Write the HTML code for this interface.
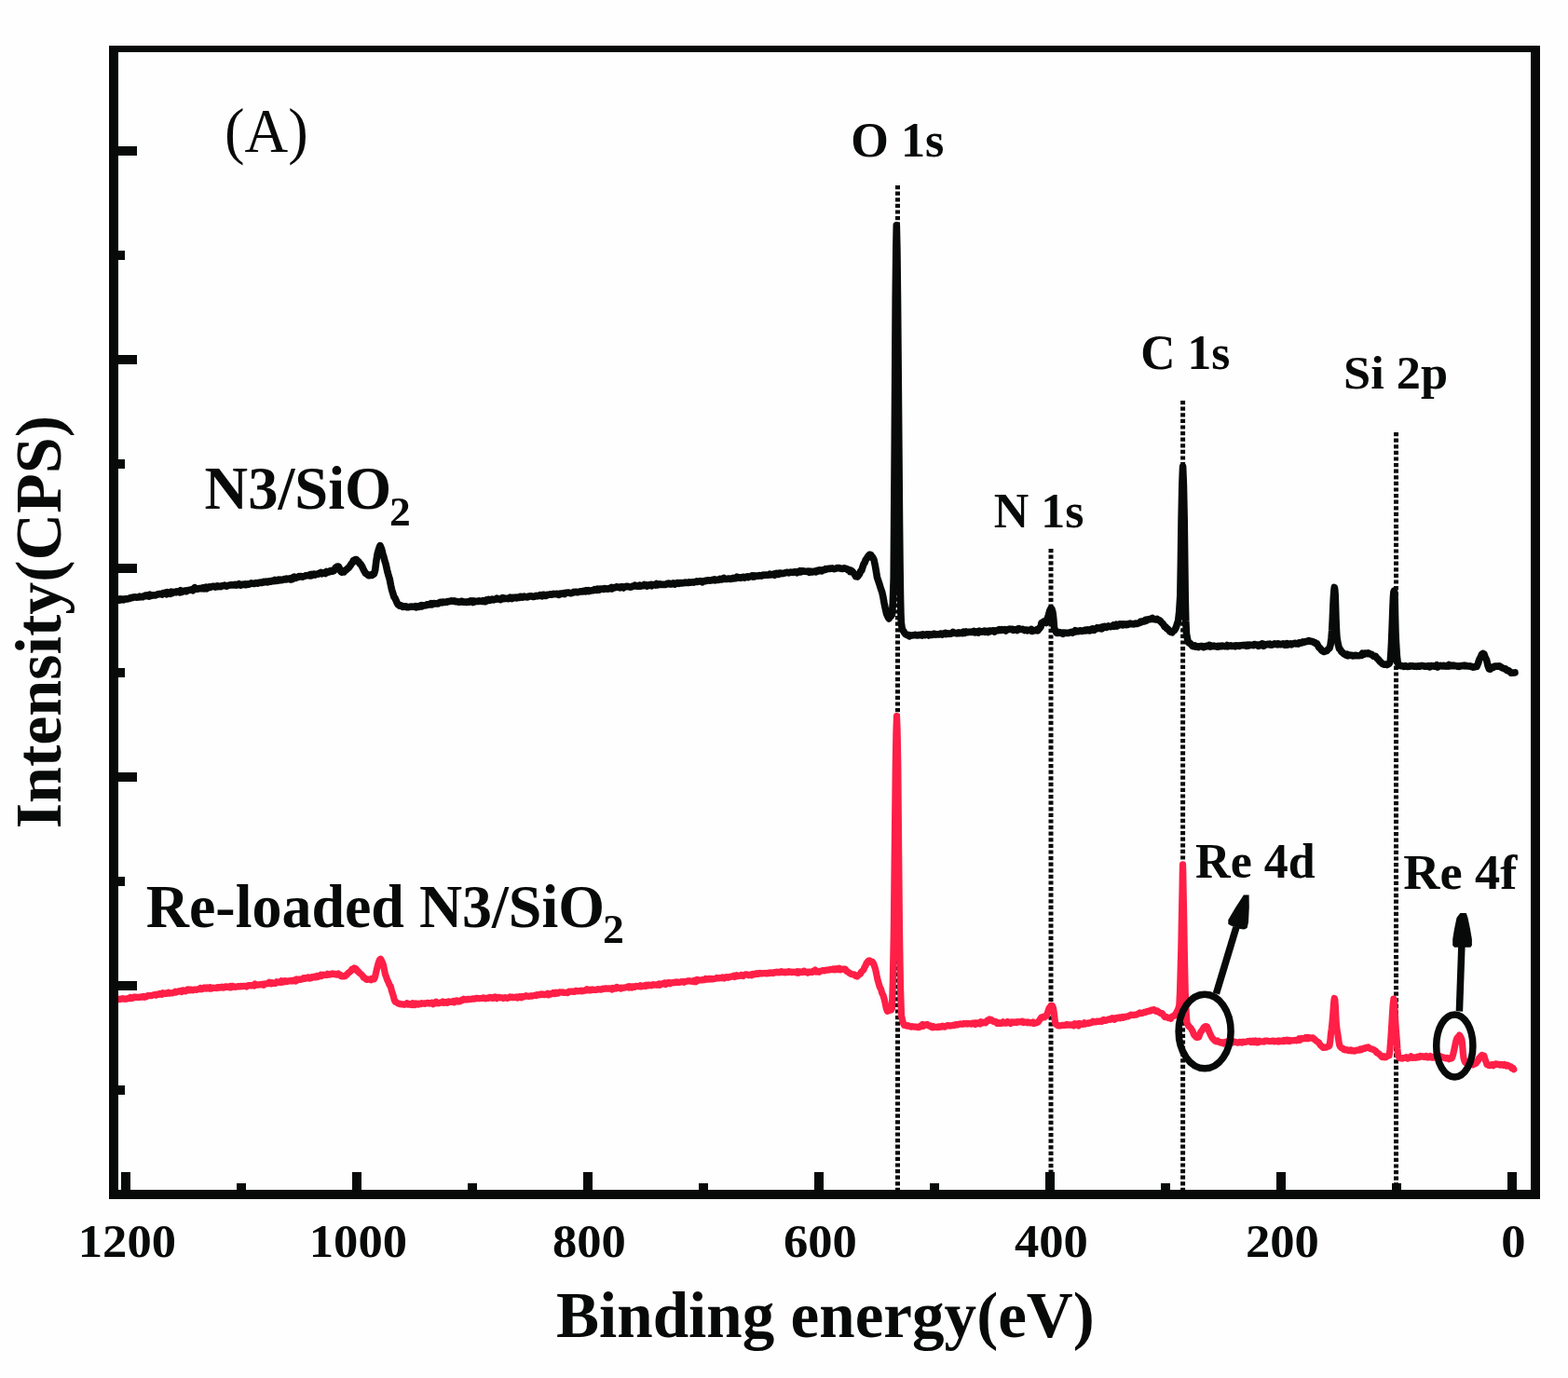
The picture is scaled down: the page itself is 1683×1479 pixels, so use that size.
<!DOCTYPE html>
<html><head><meta charset="utf-8"><title>XPS spectra</title>
<style>
html,body{margin:0;padding:0;background:#fefefe;}
svg{display:block;}
.b{font-family:"Liberation Serif","Times New Roman",serif;font-weight:bold;fill:#080a09;}
.r{font-family:"Liberation Serif","Times New Roman",serif;font-weight:normal;fill:#080a09;}
</style></head>
<body>
<svg width="1683" height="1479" viewBox="0 0 1683 1479">
<rect width="1683" height="1479" fill="#fefefe"/>
<path d="M127.0,643.7 L128.0,644.1 L129.0,643.0 L130.0,643.8 L131.0,643.1 L132.0,643.0 L133.0,643.8 L134.0,642.9 L135.0,642.7 L136.0,642.9 L137.0,643.0 L138.0,642.3 L139.0,642.5 L140.0,641.6 L141.0,641.8 L142.0,641.6 L143.0,641.1 L144.0,640.9 L145.0,640.7 L146.0,641.2 L147.0,641.1 L148.0,640.9 L149.0,641.0 L150.0,640.2 L151.0,640.6 L152.0,640.6 L153.0,640.7 L154.0,639.9 L155.0,640.0 L156.0,639.1 L157.0,639.6 L158.0,638.7 L159.0,639.0 L160.0,640.0 L161.0,638.3 L162.0,639.5 L163.0,639.2 L164.0,638.8 L165.0,639.0 L166.0,638.9 L167.0,639.0 L168.0,638.3 L169.0,638.0 L170.0,637.8 L171.0,637.5 L172.0,637.8 L173.0,637.3 L174.0,638.0 L175.0,636.6 L176.0,636.8 L177.0,636.7 L178.0,636.1 L179.0,637.7 L180.0,635.6 L181.0,636.5 L182.0,636.2 L183.0,637.1 L184.0,635.3 L185.0,636.6 L186.0,635.6 L187.0,635.7 L188.0,635.4 L189.0,635.8 L190.0,634.9 L191.0,635.2 L192.0,635.3 L193.0,635.8 L194.0,633.8 L195.0,635.4 L196.0,635.0 L197.0,634.2 L198.0,634.4 L199.0,633.9 L200.0,634.7 L201.0,633.9 L202.0,633.6 L203.0,633.4 L204.0,633.3 L205.0,633.1 L206.0,632.6 L207.0,633.7 L208.0,631.8 L209.0,630.8 L210.0,632.2 L211.0,632.0 L212.0,632.1 L213.0,631.7 L214.0,631.6 L215.0,631.6 L216.0,631.8 L217.0,631.0 L218.0,630.9 L219.0,631.9 L220.0,631.1 L221.0,630.3 L222.0,631.7 L223.0,630.8 L224.0,630.1 L225.0,629.7 L226.0,630.3 L227.0,629.7 L228.0,629.5 L229.0,629.2 L230.0,629.5 L231.0,630.1 L232.0,629.3 L233.0,628.8 L234.0,629.6 L235.0,629.3 L236.0,629.5 L237.0,629.6 L238.0,628.9 L239.0,628.8 L240.0,628.8 L241.0,628.2 L242.1,628.9 L243.1,629.2 L244.1,628.6 L245.1,628.3 L246.2,628.2 L247.2,627.9 L248.2,627.9 L249.2,628.0 L250.3,627.7 L251.3,627.9 L252.3,627.3 L253.4,628.1 L254.4,627.9 L255.4,627.3 L256.4,626.7 L257.5,627.7 L258.5,628.1 L259.5,627.2 L260.5,627.2 L261.6,627.1 L262.6,627.6 L263.6,626.8 L264.6,627.6 L265.7,626.9 L266.7,627.3 L267.7,626.8 L268.7,626.6 L269.7,625.9 L270.7,626.1 L271.8,626.2 L272.8,626.5 L273.8,626.2 L274.8,625.6 L275.8,626.0 L276.9,626.1 L277.9,625.5 L278.9,625.2 L279.9,625.1 L280.9,625.5 L281.9,625.2 L283.0,624.4 L284.0,624.9 L285.0,624.4 L286.0,624.1 L287.0,624.9 L288.0,624.6 L289.0,623.8 L290.0,624.0 L291.0,624.1 L292.0,623.4 L293.0,623.5 L294.0,623.7 L295.0,622.5 L296.0,623.3 L297.0,623.4 L298.0,623.1 L299.0,622.2 L300.0,622.8 L301.0,622.1 L302.0,622.6 L303.0,622.5 L304.0,622.2 L305.0,621.6 L306.0,621.5 L307.0,622.0 L308.0,621.1 L309.0,621.6 L310.0,621.4 L311.0,620.9 L312.0,622.0 L313.0,620.8 L314.0,621.5 L315.0,619.5 L316.0,619.2 L317.0,620.5 L318.0,620.2 L319.0,619.6 L320.0,619.5 L321.0,618.5 L322.0,618.9 L323.0,618.5 L324.0,618.7 L325.0,619.1 L326.0,618.5 L327.0,618.5 L328.0,617.8 L329.0,617.7 L330.0,617.8 L331.0,617.4 L332.0,617.9 L333.0,616.8 L334.0,617.8 L335.0,616.4 L336.0,617.1 L337.1,616.1 L338.1,617.0 L339.1,616.2 L340.2,616.2 L341.2,616.2 L342.2,615.4 L343.3,615.1 L344.3,614.5 L345.3,615.8 L346.4,614.8 L347.4,614.7 L348.4,614.7 L349.4,615.5 L350.5,613.6 L351.5,614.3 L352.5,613.7 L353.6,613.9 L354.6,612.5 L355.6,612.8 L356.7,613.1 L357.7,613.0 L358.9,612.1 L360.0,609.5 L361.1,608.6 L362.3,608.0 L363.5,608.3 L364.6,610.4 L365.8,613.4 L367.0,614.1 L368.0,613.8 L369.1,614.0 L370.1,612.3 L371.1,612.2 L372.1,611.1 L373.2,610.1 L374.2,609.4 L375.2,608.1 L376.2,606.7 L377.2,605.0 L378.3,604.0 L379.3,601.6 L380.3,601.1 L381.3,600.6 L382.5,600.6 L383.7,602.1 L384.9,602.8 L386.1,605.0 L387.2,605.5 L388.2,607.3 L389.3,609.5 L390.3,611.7 L391.4,613.6 L392.4,615.3 L393.5,616.1 L394.5,616.7 L395.6,617.7 L396.8,617.6 L398.0,616.9 L399.1,617.5 L400.3,616.8 L401.5,615.9 L402.7,611.8 L403.9,601.9 L405.1,594.6 L406.6,589.4 L408.0,585.6 L409.0,587.9 L410.0,590.7 L411.0,595.3 L412.0,598.1 L413.0,602.1 L414.0,605.2 L415.0,609.6 L416.0,614.1 L417.0,617.7 L418.2,621.5 L419.4,627.8 L420.5,632.8 L421.7,636.6 L422.9,640.7 L424.1,642.2 L425.3,645.0 L426.4,647.5 L427.6,649.2 L428.8,650.2 L430.0,649.8 L431.2,650.1 L432.4,651.4 L433.6,650.8 L434.6,651.3 L435.6,650.8 L436.6,651.8 L437.7,651.7 L438.7,651.6 L439.7,651.3 L440.7,651.2 L441.7,651.0 L442.7,651.3 L443.7,651.2 L444.8,651.2 L445.8,650.7 L446.8,651.7 L447.8,650.9 L448.8,651.4 L449.9,651.2 L450.9,650.1 L452.0,649.6 L453.0,650.8 L454.1,649.9 L455.1,650.0 L456.1,649.7 L457.2,649.7 L458.2,648.9 L459.3,649.2 L460.3,648.9 L461.4,648.9 L462.4,647.7 L463.5,648.9 L464.5,648.5 L465.5,647.5 L466.5,647.7 L467.5,647.9 L468.5,648.0 L469.5,647.5 L470.5,647.9 L471.5,647.1 L472.5,646.4 L473.5,646.4 L474.5,646.8 L475.5,646.0 L476.5,646.5 L477.5,646.5 L478.5,646.1 L479.5,646.2 L480.5,645.6 L481.5,645.6 L482.5,645.2 L483.5,645.2 L484.5,644.8 L485.6,645.3 L486.6,645.1 L487.6,644.9 L488.7,645.7 L489.7,645.8 L490.7,645.5 L491.8,646.3 L492.8,646.2 L493.8,646.2 L494.8,645.5 L495.9,645.2 L496.9,646.1 L497.9,646.0 L499.0,646.2 L500.0,646.1 L501.0,646.5 L502.0,645.8 L503.0,646.2 L504.0,645.4 L505.1,644.8 L506.1,645.6 L507.1,646.4 L508.1,644.9 L509.1,646.1 L510.1,645.3 L511.1,645.3 L512.1,645.4 L513.1,645.4 L514.1,644.8 L515.2,645.2 L516.2,645.3 L517.2,645.4 L518.2,644.6 L519.2,645.5 L520.2,645.6 L521.2,645.7 L522.2,643.9 L523.2,644.5 L524.3,643.5 L525.3,644.4 L526.3,644.3 L527.3,643.4 L528.3,643.1 L529.3,643.8 L530.3,643.9 L531.3,643.1 L532.3,643.3 L533.4,642.1 L534.4,642.8 L535.4,643.1 L536.4,643.0 L537.4,643.5 L538.4,642.2 L539.4,641.6 L540.4,642.7 L541.4,642.1 L542.4,642.4 L543.5,642.5 L544.5,642.3 L545.5,642.6 L546.5,642.5 L547.5,641.1 L548.5,641.7 L549.5,642.5 L550.5,641.4 L551.5,641.9 L552.5,641.4 L553.5,641.1 L554.5,641.9 L555.5,641.6 L556.6,640.9 L557.6,641.4 L558.6,640.3 L559.6,640.5 L560.6,641.1 L561.6,640.7 L562.6,640.1 L563.6,640.7 L564.6,640.6 L565.6,640.9 L566.6,640.7 L567.6,640.1 L568.6,639.9 L569.6,640.0 L570.6,639.8 L571.6,640.5 L572.6,640.5 L573.6,640.3 L574.7,639.8 L575.7,639.4 L576.7,639.9 L577.7,639.2 L578.7,639.4 L579.7,638.5 L580.7,638.9 L581.7,639.7 L582.7,638.5 L583.7,638.2 L584.7,638.7 L585.7,639.5 L586.7,639.3 L587.7,638.4 L588.7,638.3 L589.7,638.3 L590.7,637.9 L591.8,638.2 L592.8,638.0 L593.8,637.4 L594.8,637.7 L595.8,637.7 L596.8,637.4 L597.8,637.2 L598.8,638.0 L599.8,638.4 L600.8,637.3 L601.8,637.1 L602.8,637.4 L603.8,637.0 L604.8,636.7 L605.9,637.5 L606.9,636.3 L607.9,636.4 L608.9,636.3 L609.9,636.1 L610.9,636.3 L611.9,636.5 L612.9,636.8 L613.9,636.4 L614.9,636.0 L615.9,635.3 L617.0,635.7 L618.0,635.2 L619.0,635.5 L620.0,635.8 L621.0,635.4 L622.0,635.1 L623.0,634.7 L624.0,634.9 L625.0,634.9 L626.0,634.3 L627.0,634.4 L628.1,634.9 L629.1,633.6 L630.1,634.1 L631.1,633.6 L632.1,634.7 L633.1,634.2 L634.1,634.0 L635.1,633.8 L636.1,633.7 L637.1,633.6 L638.1,632.6 L639.2,633.3 L640.2,633.4 L641.2,632.3 L642.2,633.2 L643.2,633.1 L644.2,632.0 L645.2,632.3 L646.2,632.3 L647.2,632.1 L648.2,632.4 L649.2,631.5 L650.3,631.9 L651.3,632.0 L652.3,632.1 L653.3,631.7 L654.3,631.4 L655.3,631.8 L656.3,630.5 L657.3,631.7 L658.3,631.0 L659.3,630.5 L660.3,630.8 L661.4,630.0 L662.4,629.8 L663.4,630.5 L664.4,630.2 L665.4,630.8 L666.4,630.0 L667.4,629.7 L668.4,629.8 L669.4,630.9 L670.4,630.1 L671.4,629.7 L672.4,629.4 L673.4,629.3 L674.4,629.7 L675.4,629.8 L676.4,630.1 L677.4,630.0 L678.5,629.5 L679.5,629.0 L680.5,628.9 L681.5,628.2 L682.5,628.7 L683.5,629.2 L684.5,628.8 L685.5,629.1 L686.5,628.2 L687.5,629.2 L688.5,628.8 L689.5,628.6 L690.5,628.7 L691.5,627.5 L692.5,628.2 L693.5,627.9 L694.5,629.1 L695.5,628.1 L696.5,627.9 L697.5,628.4 L698.5,627.5 L699.5,628.6 L700.5,627.5 L701.5,627.8 L702.6,627.3 L703.6,628.0 L704.6,626.6 L705.6,627.8 L706.6,627.1 L707.6,627.4 L708.6,626.8 L709.6,627.4 L710.6,627.3 L711.6,627.4 L712.6,627.2 L713.6,627.3 L714.6,627.4 L715.6,626.7 L716.6,626.2 L717.6,626.1 L718.6,626.9 L719.6,626.4 L720.6,627.0 L721.6,626.4 L722.6,625.9 L723.6,626.7 L724.6,627.1 L725.6,626.1 L726.7,625.6 L727.7,625.6 L728.7,626.3 L729.7,625.6 L730.7,625.6 L731.7,626.0 L732.7,625.6 L733.7,625.6 L734.7,625.2 L735.7,625.1 L736.7,625.4 L737.7,625.3 L738.7,625.4 L739.7,624.8 L740.7,625.1 L741.7,625.1 L742.7,624.8 L743.7,624.9 L744.7,625.1 L745.7,624.6 L746.7,624.5 L747.7,623.9 L748.7,624.4 L749.8,624.1 L750.8,623.9 L751.8,623.6 L752.8,624.1 L753.8,624.9 L754.8,623.9 L755.8,623.6 L756.8,623.7 L757.8,623.1 L758.8,623.4 L759.8,622.9 L760.8,622.8 L761.8,623.1 L762.8,623.0 L763.8,622.8 L764.8,622.4 L765.8,622.7 L766.8,622.0 L767.8,622.8 L768.8,622.2 L769.8,622.2 L770.8,622.5 L771.8,622.3 L772.8,621.4 L773.9,621.7 L774.9,621.9 L775.9,621.1 L776.9,620.5 L777.9,621.4 L778.9,621.3 L779.9,621.4 L780.9,621.2 L781.9,621.1 L782.9,621.0 L783.9,621.5 L784.9,621.0 L785.9,620.9 L786.9,620.4 L787.9,621.0 L788.9,620.3 L789.9,620.6 L790.9,619.2 L791.9,620.2 L792.9,619.9 L793.9,619.7 L794.9,620.4 L795.9,619.9 L796.9,619.5 L798.0,619.3 L799.0,620.2 L800.0,619.6 L801.0,619.5 L802.0,618.8 L803.0,619.6 L804.0,619.2 L805.0,618.7 L806.0,618.7 L807.0,617.9 L808.0,618.9 L809.0,618.0 L810.0,618.8 L811.0,618.1 L812.0,618.0 L813.0,618.3 L814.0,618.2 L815.0,617.5 L816.0,617.9 L817.0,618.1 L818.0,617.7 L819.0,617.1 L820.0,617.5 L821.0,617.1 L822.0,617.1 L823.0,617.3 L824.1,617.2 L825.1,617.0 L826.1,616.2 L827.1,617.0 L828.1,616.6 L829.1,616.4 L830.1,616.5 L831.2,617.2 L832.2,615.6 L833.2,615.3 L834.2,616.2 L835.2,615.4 L836.2,616.2 L837.2,615.1 L838.2,615.1 L839.3,615.6 L840.3,615.5 L841.3,615.2 L842.3,615.0 L843.3,614.7 L844.3,614.4 L845.3,614.4 L846.4,614.9 L847.4,614.6 L848.4,614.1 L849.4,614.2 L850.4,614.3 L851.4,614.4 L852.4,613.7 L853.5,613.7 L854.5,613.8 L855.5,614.7 L856.5,613.6 L857.5,614.0 L858.5,612.7 L859.6,613.7 L860.6,612.7 L861.6,612.8 L862.6,613.0 L863.7,613.2 L864.7,613.3 L865.7,613.4 L866.7,613.3 L867.7,613.0 L868.8,614.3 L869.8,613.3 L870.8,613.4 L871.8,614.0 L872.8,613.5 L873.9,613.3 L874.9,613.1 L875.9,613.8 L876.9,612.4 L878.0,612.4 L879.0,612.8 L880.0,611.8 L881.0,612.2 L882.0,612.9 L883.0,611.9 L884.0,611.8 L885.0,611.8 L886.0,610.7 L887.0,611.1 L888.1,610.6 L889.1,610.2 L890.2,610.4 L891.2,610.4 L892.3,610.1 L893.4,609.9 L894.4,610.5 L895.5,610.6 L896.5,610.3 L897.6,610.0 L898.7,609.5 L899.8,609.6 L900.9,609.5 L902.0,610.1 L903.1,610.4 L904.2,610.4 L905.3,610.0 L906.4,609.8 L907.4,610.2 L908.4,610.4 L909.4,611.1 L910.4,612.0 L911.4,611.6 L912.4,613.5 L913.4,612.2 L914.4,613.0 L915.4,614.0 L916.4,615.3 L917.4,616.6 L918.4,618.5 L919.4,617.9 L920.4,618.9 L921.5,617.5 L922.6,616.0 L923.7,613.1 L924.8,612.3 L925.9,608.7 L927.0,605.5 L928.1,603.9 L929.2,600.9 L930.3,599.5 L931.3,597.8 L932.4,596.3 L933.4,595.2 L934.5,595.4 L935.7,597.0 L936.8,598.4 L938.0,600.7 L939.2,606.2 L940.3,612.5 L941.5,619.8 L942.6,623.0 L943.6,625.9 L944.7,629.5 L945.7,632.6 L946.8,635.8 L948.0,641.3 L949.1,647.5 L950.3,653.2 L951.6,659.0 L953.0,662.0 L954.1,663.9 L955.2,662.3 L956.3,661.2 L957.4,659.9 L958.3,647.8 L959.2,620.5 L960.2,483.4 L961.2,319.9 L961.8,267.0 L962.3,241.7 L962.9,267.9 L963.5,320.5 L964.5,437.9 L965.5,559.5 L966.0,605.6 L966.5,640.3 L966.9,657.9 L967.3,667.9 L968.1,673.8 L969.0,676.4 L970.0,677.8 L971.0,679.5 L972.0,680.8 L973.0,681.2 L974.0,681.6 L975.0,681.4 L976.0,682.8 L977.1,681.9 L978.1,682.1 L979.2,681.9 L980.3,681.8 L981.3,681.8 L982.4,681.3 L983.5,681.7 L984.6,682.0 L985.6,681.6 L986.7,681.6 L987.8,681.5 L988.8,681.2 L989.9,682.0 L990.9,680.9 L991.9,681.4 L992.9,681.7 L993.9,681.3 L995.0,680.7 L996.0,680.7 L997.0,681.9 L998.0,680.8 L999.0,681.2 L1000.0,681.4 L1001.0,681.2 L1002.1,680.4 L1003.1,680.3 L1004.1,681.1 L1005.2,680.7 L1006.2,680.9 L1007.2,681.0 L1008.3,681.0 L1009.3,680.2 L1010.3,680.0 L1011.4,681.1 L1012.4,680.3 L1013.5,680.0 L1014.5,679.5 L1015.5,680.6 L1016.6,679.7 L1017.6,679.7 L1018.6,680.4 L1019.7,680.1 L1020.7,680.2 L1021.7,679.3 L1022.8,678.5 L1023.8,679.3 L1024.8,679.5 L1025.8,679.3 L1026.9,679.9 L1027.9,679.6 L1028.9,678.9 L1029.9,679.6 L1030.9,679.2 L1031.9,679.0 L1033.0,679.6 L1034.0,678.3 L1035.0,679.5 L1036.0,679.4 L1037.0,678.0 L1038.0,678.7 L1039.1,678.7 L1040.1,678.2 L1041.1,678.4 L1042.1,678.2 L1043.1,678.5 L1044.1,678.2 L1045.2,677.4 L1046.2,678.9 L1047.2,678.7 L1048.2,677.8 L1049.2,678.5 L1050.2,679.0 L1051.3,677.3 L1052.3,677.8 L1053.3,677.7 L1054.3,678.1 L1055.3,677.6 L1056.3,677.1 L1057.4,678.2 L1058.4,677.4 L1059.4,677.8 L1060.4,678.5 L1061.4,677.0 L1062.4,677.1 L1063.4,677.6 L1064.4,677.1 L1065.5,677.3 L1066.5,676.9 L1067.5,678.1 L1068.5,677.1 L1069.5,676.8 L1070.5,676.6 L1071.5,676.7 L1072.5,675.7 L1073.5,676.2 L1074.5,676.5 L1075.5,675.6 L1076.6,676.1 L1077.6,675.9 L1078.6,675.6 L1079.6,676.9 L1080.6,676.0 L1081.6,675.8 L1082.6,675.2 L1083.6,675.5 L1084.6,675.3 L1085.6,675.3 L1086.6,675.4 L1087.7,676.4 L1088.7,675.9 L1089.7,676.0 L1090.7,675.8 L1091.7,676.5 L1092.7,674.9 L1093.7,674.6 L1094.7,675.4 L1095.8,675.5 L1096.8,675.5 L1097.8,675.3 L1098.8,676.0 L1099.8,676.6 L1100.9,676.1 L1101.9,676.0 L1102.9,676.8 L1103.9,676.2 L1105.0,676.3 L1106.0,676.6 L1107.0,675.5 L1108.0,677.4 L1109.0,676.5 L1110.0,676.7 L1111.0,676.6 L1112.0,676.7 L1113.0,675.7 L1114.0,676.6 L1115.0,675.3 L1116.0,674.1 L1117.0,673.0 L1118.0,668.4 L1119.2,667.9 L1120.5,667.0 L1121.8,666.6 L1123.0,668.4 L1124.2,664.0 L1125.5,660.1 L1126.7,655.7 L1127.8,653.3 L1128.8,653.5 L1129.8,656.6 L1130.3,659.6 L1130.8,664.4 L1131.2,669.5 L1131.5,674.1 L1132.8,677.1 L1134.0,679.2 L1135.0,679.4 L1136.0,679.2 L1137.0,678.6 L1138.0,678.9 L1139.0,679.6 L1140.0,679.2 L1141.1,680.2 L1142.1,679.1 L1143.1,679.4 L1144.1,679.5 L1145.1,679.2 L1146.1,679.2 L1147.1,679.4 L1148.2,678.7 L1149.2,678.8 L1150.2,678.4 L1151.2,679.3 L1152.2,678.4 L1153.2,678.5 L1154.2,676.7 L1155.2,677.7 L1156.3,677.2 L1157.3,677.6 L1158.3,677.2 L1159.3,676.8 L1160.3,677.0 L1161.3,677.4 L1162.3,677.3 L1163.4,676.5 L1164.4,677.0 L1165.4,676.2 L1166.4,676.6 L1167.4,675.8 L1168.4,676.5 L1169.5,676.9 L1170.5,675.6 L1171.5,676.1 L1172.5,674.8 L1173.5,675.0 L1174.5,676.3 L1175.6,674.9 L1176.6,675.0 L1177.6,673.8 L1178.6,674.4 L1179.6,673.9 L1180.7,674.6 L1181.7,673.6 L1182.7,674.8 L1183.7,673.0 L1184.7,673.5 L1185.7,672.3 L1186.8,672.8 L1187.8,673.4 L1188.8,672.6 L1189.8,671.9 L1190.8,672.5 L1191.9,672.6 L1192.9,672.2 L1193.9,672.3 L1194.9,671.0 L1195.9,672.3 L1196.9,671.7 L1198.0,670.3 L1199.0,672.0 L1200.0,670.8 L1201.0,671.1 L1202.0,669.9 L1203.0,670.4 L1204.0,669.8 L1205.0,670.9 L1206.0,670.3 L1207.0,669.9 L1208.0,670.1 L1209.0,670.7 L1210.0,669.8 L1211.1,670.3 L1212.1,669.4 L1213.1,669.1 L1214.1,669.6 L1215.1,669.6 L1216.1,669.7 L1217.1,669.9 L1218.1,669.2 L1219.1,669.1 L1220.1,669.5 L1221.1,669.2 L1222.1,668.8 L1223.2,668.6 L1224.2,667.2 L1225.3,667.6 L1226.3,666.7 L1227.3,666.9 L1228.4,667.0 L1229.4,665.4 L1230.5,666.1 L1231.5,665.1 L1232.5,664.9 L1233.6,664.5 L1234.6,664.8 L1235.7,664.0 L1236.7,663.4 L1237.7,664.5 L1238.8,664.3 L1239.8,664.8 L1240.8,665.0 L1241.9,664.3 L1242.9,665.2 L1243.9,665.6 L1245.0,666.2 L1246.0,667.2 L1247.0,668.5 L1248.1,669.3 L1249.1,670.8 L1250.1,672.6 L1251.2,672.9 L1252.2,674.4 L1253.4,675.1 L1254.6,676.4 L1255.7,677.7 L1256.9,678.4 L1258.0,678.8 L1259.1,677.4 L1260.2,676.9 L1261.3,675.3 L1262.4,673.2 L1263.5,669.6 L1264.6,666.5 L1265.7,656.7 L1266.8,639.5 L1267.4,604.5 L1268.0,560.7 L1268.8,520.4 L1269.6,500.8 L1270.4,520.5 L1271.2,559.2 L1271.7,600.4 L1272.2,640.1 L1272.8,666.7 L1273.5,680.5 L1274.5,685.7 L1275.5,689.5 L1276.5,690.2 L1277.6,690.6 L1278.8,692.1 L1279.9,693.2 L1281.0,693.7 L1282.2,693.0 L1283.3,694.2 L1284.3,693.6 L1285.4,693.9 L1286.4,694.6 L1287.5,693.9 L1288.5,693.6 L1289.6,693.8 L1290.6,693.5 L1291.7,694.7 L1292.7,694.1 L1293.7,694.1 L1294.8,693.4 L1295.8,693.3 L1296.9,693.7 L1297.9,692.6 L1299.0,694.0 L1300.0,692.9 L1301.0,693.5 L1302.0,693.6 L1303.0,693.1 L1304.0,693.6 L1305.0,693.7 L1306.0,694.2 L1307.0,693.5 L1308.0,694.2 L1309.0,693.5 L1310.0,693.2 L1311.0,693.7 L1312.0,693.1 L1313.0,693.4 L1314.0,693.6 L1315.0,693.8 L1316.0,693.4 L1317.0,692.6 L1318.0,693.8 L1319.0,693.3 L1320.0,693.1 L1321.0,692.8 L1322.0,693.4 L1323.0,693.3 L1324.0,693.4 L1325.0,693.0 L1326.0,693.8 L1327.0,692.9 L1328.0,693.2 L1329.0,693.1 L1330.0,693.5 L1331.0,692.7 L1332.1,692.8 L1333.1,692.8 L1334.1,692.6 L1335.1,692.6 L1336.2,692.3 L1337.2,693.1 L1338.2,693.4 L1339.3,692.3 L1340.3,693.0 L1341.3,692.1 L1342.3,692.2 L1343.4,692.4 L1344.4,692.5 L1345.4,692.6 L1346.4,691.5 L1347.5,691.7 L1348.5,692.3 L1349.5,692.1 L1350.6,693.2 L1351.6,692.0 L1352.6,691.8 L1353.6,692.6 L1354.7,690.8 L1355.7,691.2 L1356.7,693.2 L1357.7,691.6 L1358.8,691.9 L1359.8,691.8 L1360.8,691.4 L1361.8,691.7 L1362.8,691.2 L1363.8,692.2 L1364.9,692.1 L1365.9,692.0 L1366.9,691.3 L1367.9,690.8 L1368.9,691.4 L1369.9,691.1 L1371.0,691.8 L1372.0,690.8 L1373.0,691.1 L1374.0,691.6 L1375.0,691.7 L1376.0,691.5 L1377.1,690.9 L1378.1,691.1 L1379.1,692.3 L1380.1,691.8 L1381.1,690.9 L1382.1,692.1 L1383.2,691.2 L1384.2,691.2 L1385.2,690.8 L1386.2,691.8 L1387.2,691.1 L1388.2,690.9 L1389.3,690.5 L1390.3,690.3 L1391.3,690.9 L1392.3,690.7 L1393.3,691.2 L1394.4,689.9 L1395.4,689.9 L1396.4,690.2 L1397.4,689.9 L1398.4,688.9 L1399.5,689.5 L1400.5,688.8 L1401.5,688.7 L1402.5,688.3 L1403.6,688.4 L1404.6,687.6 L1405.6,687.7 L1406.8,688.4 L1407.9,688.4 L1409.1,688.7 L1410.3,689.5 L1411.4,689.7 L1412.4,690.7 L1413.5,690.8 L1414.6,692.9 L1415.7,694.9 L1416.7,695.5 L1417.8,697.0 L1418.9,698.3 L1419.9,698.8 L1421.0,699.5 L1422.0,699.2 L1423.0,698.7 L1424.0,698.7 L1425.0,697.4 L1426.0,696.4 L1427.0,695.7 L1428.0,692.3 L1429.0,684.9 L1429.7,676.2 L1430.3,664.8 L1430.8,652.0 L1431.4,640.3 L1431.8,634.4 L1432.3,630.4 L1432.8,633.4 L1433.2,639.0 L1433.6,652.2 L1434.0,665.4 L1434.5,677.1 L1435.0,684.7 L1436.2,691.2 L1437.5,696.3 L1438.8,697.4 L1440.0,699.7 L1441.2,700.5 L1442.4,701.9 L1443.6,702.1 L1444.8,703.2 L1445.9,702.3 L1446.9,703.8 L1448.0,703.3 L1449.0,703.0 L1450.1,703.5 L1451.1,703.3 L1452.2,704.0 L1453.2,703.6 L1454.3,703.3 L1455.3,703.7 L1456.3,703.6 L1457.3,703.7 L1458.3,703.7 L1459.3,703.7 L1460.3,703.0 L1461.4,703.3 L1462.4,701.2 L1463.4,702.0 L1464.4,702.2 L1465.4,701.1 L1466.4,701.4 L1467.4,701.6 L1468.6,700.9 L1469.8,701.5 L1470.9,702.3 L1472.1,702.2 L1473.3,703.4 L1474.4,704.3 L1475.4,704.0 L1476.5,704.5 L1477.6,706.1 L1478.7,707.1 L1479.7,708.0 L1480.8,709.6 L1481.9,710.6 L1482.9,711.5 L1484.0,712.6 L1485.2,713.1 L1486.3,713.2 L1487.5,713.1 L1488.7,713.6 L1489.9,713.1 L1491.1,712.1 L1492.3,709.6 L1492.9,701.3 L1493.5,690.4 L1494.0,677.8 L1494.5,664.8 L1495.0,650.9 L1495.5,640.0 L1495.9,635.4 L1496.3,634.2 L1496.7,635.5 L1497.0,640.1 L1497.3,650.7 L1497.6,665.0 L1498.0,679.5 L1498.5,690.0 L1499.4,704.6 L1500.3,711.6 L1501.3,714.1 L1502.4,714.2 L1503.4,714.6 L1504.4,714.5 L1505.5,714.9 L1506.5,715.4 L1507.5,715.1 L1508.5,714.6 L1509.6,715.1 L1510.6,715.5 L1511.6,715.4 L1512.6,715.3 L1513.7,714.6 L1514.7,714.9 L1515.7,714.8 L1516.7,714.9 L1517.8,715.3 L1518.8,715.2 L1519.8,715.0 L1520.8,715.4 L1521.9,714.9 L1522.9,715.0 L1523.9,715.2 L1524.9,714.6 L1526.0,714.8 L1527.0,714.6 L1528.0,714.7 L1529.0,715.1 L1530.0,715.1 L1531.0,715.3 L1532.0,715.3 L1533.0,714.6 L1534.1,715.9 L1535.1,715.7 L1536.1,714.5 L1537.1,714.7 L1538.1,714.8 L1539.1,715.0 L1540.1,715.2 L1541.1,714.9 L1542.1,713.7 L1543.1,716.1 L1544.1,715.1 L1545.2,715.0 L1546.2,714.3 L1547.2,714.6 L1548.2,715.0 L1549.2,714.3 L1550.2,715.0 L1551.2,714.5 L1552.2,715.1 L1553.2,714.4 L1554.2,715.0 L1555.2,713.6 L1556.3,714.9 L1557.3,714.4 L1558.3,714.1 L1559.3,714.7 L1560.3,714.1 L1561.3,714.6 L1562.3,714.6 L1563.4,714.7 L1564.4,715.3 L1565.4,714.9 L1566.5,715.5 L1567.5,714.8 L1568.5,714.6 L1569.5,714.8 L1570.6,714.7 L1571.6,714.2 L1572.6,714.9 L1573.7,714.4 L1574.7,714.9 L1575.7,715.0 L1576.8,715.0 L1577.8,714.8 L1578.8,715.4 L1579.8,715.4 L1580.9,716.1 L1581.9,715.8 L1582.9,716.0 L1584.0,715.4 L1585.0,715.5 L1586.5,712.0 L1587.9,707.6 L1589.2,705.4 L1590.4,702.4 L1591.7,701.3 L1593.0,702.2 L1594.2,705.7 L1595.5,708.0 L1597.0,714.4 L1598.4,718.0 L1599.5,718.2 L1600.6,716.9 L1601.7,716.1 L1602.7,716.5 L1603.8,715.2 L1604.9,715.0 L1606.0,715.1 L1607.1,715.1 L1608.2,715.1 L1609.3,714.8 L1610.3,715.4 L1611.4,716.2 L1612.5,716.9 L1613.6,717.3 L1614.7,717.7 L1615.7,717.8 L1616.8,718.7 L1617.8,719.7 L1618.9,719.5 L1619.9,720.3 L1621.0,721.4 L1622.0,722.2 L1623.1,722.0 L1624.5,722.1 L1626.0,721.9" fill="none" stroke="#080a09" stroke-width="7.6" stroke-linejoin="round" stroke-linecap="round"/>
<line x1="963.5" y1="199" x2="963.5" y2="1277" stroke="#080a09" stroke-width="5" stroke-dasharray="4.2 2.4"/><line x1="1128" y1="589" x2="1128" y2="1277" stroke="#080a09" stroke-width="5" stroke-dasharray="4.2 2.4"/><line x1="1269.6" y1="430" x2="1269.6" y2="1277" stroke="#080a09" stroke-width="5" stroke-dasharray="4.2 2.4"/><line x1="1498.5" y1="464" x2="1498.5" y2="1277" stroke="#080a09" stroke-width="5" stroke-dasharray="4.2 2.4"/>
<path d="M127.5,1072.4 L128.5,1072.6 L129.5,1072.2 L130.6,1072.1 L131.6,1071.7 L132.6,1071.9 L133.6,1072.4 L134.7,1072.0 L135.7,1072.2 L136.7,1071.7 L137.7,1071.7 L138.8,1071.5 L139.8,1070.5 L140.8,1071.6 L141.8,1071.3 L142.8,1071.2 L143.9,1070.1 L144.9,1070.0 L145.9,1070.3 L146.9,1070.3 L148.0,1070.6 L149.0,1070.3 L150.0,1070.4 L151.0,1069.8 L152.1,1070.1 L153.1,1070.0 L154.1,1069.4 L155.1,1070.3 L156.2,1069.6 L157.2,1069.8 L158.2,1068.8 L159.3,1068.6 L160.3,1068.6 L161.3,1068.6 L162.4,1068.7 L163.4,1068.4 L164.4,1067.9 L165.4,1067.6 L166.5,1067.6 L167.5,1068.2 L168.5,1067.2 L169.5,1067.5 L170.6,1067.5 L171.6,1066.5 L172.6,1067.0 L173.6,1067.4 L174.7,1065.8 L175.7,1066.4 L176.7,1066.4 L177.7,1065.9 L178.8,1066.4 L179.8,1066.0 L180.8,1065.2 L181.8,1066.1 L182.8,1065.9 L183.9,1065.9 L184.9,1065.9 L185.9,1065.3 L186.9,1065.1 L188.0,1064.3 L189.0,1065.0 L190.0,1064.3 L191.0,1064.3 L192.0,1063.8 L193.0,1063.7 L194.0,1063.8 L195.0,1064.5 L196.0,1062.8 L197.0,1063.0 L198.0,1063.6 L199.0,1064.0 L200.0,1063.4 L201.0,1062.2 L202.0,1061.8 L203.1,1062.9 L204.1,1062.3 L205.1,1062.0 L206.1,1062.8 L207.1,1062.7 L208.1,1062.2 L209.1,1062.1 L210.1,1062.0 L211.1,1062.4 L212.1,1061.9 L213.1,1061.7 L214.1,1061.6 L215.1,1060.6 L216.1,1061.8 L217.2,1061.5 L218.2,1061.3 L219.2,1060.0 L220.3,1060.6 L221.3,1061.1 L222.4,1059.9 L223.4,1060.5 L224.4,1061.0 L225.5,1059.9 L226.5,1061.1 L227.6,1060.6 L228.6,1060.2 L229.6,1060.3 L230.7,1060.4 L231.7,1060.1 L232.7,1060.5 L233.8,1059.6 L234.8,1059.6 L235.8,1060.2 L236.9,1059.7 L237.9,1059.2 L239.0,1060.0 L240.0,1060.2 L241.0,1059.2 L242.1,1058.8 L243.1,1059.3 L244.1,1059.2 L245.1,1059.1 L246.2,1059.8 L247.2,1058.6 L248.2,1059.6 L249.2,1058.4 L250.3,1058.6 L251.3,1059.2 L252.3,1059.3 L253.4,1059.2 L254.4,1058.9 L255.4,1058.7 L256.4,1058.7 L257.5,1058.8 L258.5,1058.4 L259.5,1058.5 L260.5,1058.6 L261.6,1058.3 L262.6,1058.5 L263.6,1058.4 L264.6,1059.0 L265.7,1058.1 L266.7,1057.7 L267.7,1057.6 L268.7,1057.7 L269.7,1058.0 L270.7,1057.4 L271.8,1057.6 L272.8,1058.1 L273.8,1056.1 L274.8,1056.6 L275.8,1057.1 L276.9,1057.1 L277.9,1056.9 L278.9,1056.5 L279.9,1056.9 L280.9,1056.6 L281.9,1056.1 L283.0,1057.3 L284.0,1056.3 L285.0,1055.8 L286.0,1055.8 L287.0,1055.7 L288.0,1055.6 L289.0,1054.3 L290.0,1055.2 L291.0,1055.8 L292.0,1054.7 L293.0,1055.0 L294.0,1055.4 L295.0,1055.2 L296.0,1055.4 L297.0,1053.8 L298.1,1054.3 L299.1,1054.1 L300.1,1054.4 L301.1,1054.5 L302.1,1052.7 L303.1,1054.3 L304.1,1053.0 L305.1,1053.8 L306.1,1052.7 L307.1,1053.3 L308.1,1053.6 L309.1,1052.9 L310.1,1052.9 L311.1,1053.0 L312.2,1052.6 L313.2,1052.3 L314.2,1052.9 L315.3,1052.5 L316.3,1051.8 L317.4,1053.0 L318.4,1051.1 L319.4,1051.9 L320.5,1051.2 L321.5,1051.2 L322.6,1051.3 L323.6,1050.9 L324.6,1050.9 L325.7,1049.8 L326.7,1049.6 L327.7,1050.4 L328.8,1049.6 L329.8,1049.4 L330.9,1049.0 L331.9,1050.1 L332.9,1049.7 L334.0,1049.8 L335.0,1048.6 L336.0,1048.8 L337.1,1048.1 L338.1,1048.8 L339.1,1048.9 L340.2,1047.6 L341.2,1048.5 L342.2,1048.0 L343.3,1047.2 L344.3,1046.2 L345.3,1047.5 L346.4,1046.6 L347.4,1046.2 L348.4,1046.4 L349.4,1046.2 L350.5,1046.5 L351.5,1045.2 L352.5,1046.1 L353.6,1046.1 L354.6,1046.0 L355.6,1045.2 L356.7,1044.9 L357.7,1045.7 L358.8,1045.3 L359.8,1045.4 L360.9,1046.2 L361.9,1045.7 L363.0,1045.0 L364.0,1046.2 L365.1,1046.0 L366.1,1047.8 L367.2,1048.0 L368.2,1047.7 L369.3,1047.8 L370.4,1047.7 L371.4,1046.5 L372.5,1046.1 L373.6,1044.4 L374.7,1043.8 L375.8,1042.9 L376.9,1041.9 L377.9,1040.1 L379.0,1040.3 L380.1,1038.9 L381.1,1039.5 L382.1,1039.7 L383.1,1042.0 L384.1,1042.0 L385.1,1043.6 L386.1,1044.4 L387.2,1045.4 L388.2,1046.1 L389.3,1047.5 L390.3,1049.3 L391.4,1049.5 L392.4,1050.5 L393.5,1051.4 L394.5,1051.3 L395.6,1051.0 L396.8,1051.3 L398.0,1051.9 L399.1,1050.4 L400.3,1050.6 L401.5,1050.9 L402.5,1048.8 L403.5,1044.3 L404.5,1040.0 L405.5,1036.1 L406.5,1032.6 L407.6,1030.0 L408.6,1029.3 L410.1,1032.1 L411.5,1035.7 L412.4,1040.4 L413.4,1045.4 L414.6,1048.6 L415.8,1052.1 L416.9,1054.2 L418.1,1057.3 L419.3,1058.8 L420.3,1063.0 L421.3,1066.1 L422.3,1069.1 L423.3,1073.4 L424.3,1075.3 L425.3,1075.5 L426.4,1076.4 L427.4,1077.1 L428.5,1077.0 L429.5,1077.7 L430.6,1077.8 L431.6,1077.9 L432.7,1077.8 L433.7,1078.3 L434.8,1078.0 L435.8,1077.9 L436.9,1076.7 L437.9,1078.1 L439.0,1078.2 L440.0,1077.5 L441.1,1077.4 L442.1,1078.4 L443.2,1076.7 L444.2,1077.7 L445.3,1078.5 L446.3,1077.0 L447.4,1077.6 L448.4,1078.1 L449.5,1077.2 L450.5,1077.4 L451.6,1077.6 L452.6,1076.7 L453.6,1077.0 L454.6,1077.1 L455.7,1077.3 L456.7,1076.9 L457.7,1076.8 L458.7,1076.4 L459.8,1076.6 L460.8,1077.1 L461.8,1076.7 L462.8,1076.3 L463.9,1076.2 L464.9,1077.7 L465.9,1077.0 L466.9,1076.7 L468.0,1075.2 L469.0,1076.6 L470.0,1076.5 L471.0,1076.9 L472.1,1076.3 L473.1,1076.0 L474.1,1076.2 L475.1,1075.0 L476.2,1076.3 L477.2,1075.9 L478.2,1075.4 L479.2,1076.2 L480.3,1076.4 L481.3,1074.8 L482.3,1075.1 L483.3,1075.4 L484.4,1075.3 L485.4,1074.9 L486.4,1074.5 L487.4,1075.8 L488.5,1075.2 L489.5,1074.0 L490.5,1073.8 L491.5,1075.0 L492.6,1074.5 L493.6,1074.8 L494.6,1074.1 L495.6,1073.2 L496.7,1073.6 L497.7,1072.3 L498.7,1072.8 L499.7,1072.9 L500.8,1073.0 L501.8,1072.3 L502.8,1072.5 L503.8,1072.6 L504.9,1072.4 L505.9,1072.4 L506.9,1072.1 L507.9,1071.8 L509.0,1072.2 L510.0,1071.8 L511.0,1071.4 L512.0,1071.4 L513.0,1071.6 L514.1,1071.5 L515.1,1071.6 L516.1,1071.5 L517.1,1071.5 L518.1,1071.3 L519.1,1070.8 L520.1,1071.5 L521.1,1071.8 L522.2,1071.5 L523.2,1071.1 L524.2,1071.4 L525.2,1070.7 L526.2,1070.3 L527.2,1071.1 L528.2,1070.7 L529.3,1071.4 L530.3,1070.5 L531.3,1069.8 L532.3,1070.5 L533.3,1071.6 L534.3,1070.7 L535.3,1070.3 L536.4,1070.5 L537.4,1071.0 L538.4,1071.0 L539.4,1070.8 L540.4,1071.4 L541.4,1071.0 L542.4,1070.6 L543.4,1070.9 L544.5,1071.3 L545.5,1070.9 L546.5,1070.9 L547.5,1069.9 L548.5,1070.3 L549.5,1070.6 L550.5,1070.1 L551.5,1070.7 L552.5,1070.4 L553.5,1070.5 L554.5,1069.9 L555.5,1071.1 L556.5,1070.4 L557.5,1069.7 L558.5,1069.8 L559.6,1070.8 L560.6,1069.4 L561.6,1069.9 L562.6,1069.8 L563.6,1069.3 L564.6,1068.7 L565.6,1069.2 L566.6,1069.2 L567.6,1069.5 L568.6,1069.3 L569.6,1068.8 L570.6,1069.1 L571.6,1068.9 L572.6,1068.6 L573.6,1068.5 L574.6,1068.2 L575.6,1068.6 L576.6,1067.7 L577.6,1067.8 L578.6,1068.0 L579.6,1067.2 L580.6,1067.6 L581.6,1066.8 L582.6,1067.3 L583.7,1067.7 L584.7,1067.6 L585.7,1067.2 L586.7,1067.1 L587.7,1066.4 L588.7,1067.8 L589.7,1067.1 L590.7,1067.2 L591.7,1066.3 L592.7,1066.5 L593.7,1065.6 L594.7,1066.7 L595.7,1066.7 L596.7,1065.3 L597.7,1066.0 L598.7,1066.2 L599.7,1065.0 L600.7,1064.9 L601.7,1065.1 L602.7,1065.2 L603.7,1064.8 L604.7,1065.3 L605.7,1065.3 L606.7,1065.4 L607.8,1065.3 L608.8,1065.6 L609.8,1065.4 L610.8,1064.1 L611.8,1064.4 L612.8,1064.1 L613.8,1064.0 L614.8,1064.3 L615.8,1064.3 L616.8,1064.4 L617.8,1063.4 L618.8,1063.4 L619.8,1063.9 L620.8,1063.7 L621.8,1063.6 L622.8,1063.6 L623.8,1063.2 L624.8,1063.8 L625.8,1063.6 L626.8,1063.3 L627.8,1062.9 L628.8,1063.1 L629.8,1061.8 L630.9,1062.5 L631.9,1062.9 L632.9,1062.1 L633.9,1062.8 L634.9,1062.7 L635.9,1061.9 L636.9,1062.4 L637.9,1062.3 L638.9,1062.5 L639.9,1062.5 L640.9,1062.1 L641.9,1061.7 L642.9,1061.9 L643.9,1061.9 L644.9,1062.1 L645.9,1061.9 L646.9,1061.3 L647.9,1061.0 L648.9,1061.3 L649.9,1061.1 L650.9,1060.8 L651.9,1061.2 L652.9,1060.9 L653.9,1061.1 L655.0,1061.2 L656.0,1060.7 L657.0,1061.9 L658.0,1060.6 L659.0,1061.2 L660.0,1060.6 L661.0,1061.0 L662.0,1059.4 L663.0,1060.0 L664.0,1060.4 L665.0,1060.4 L666.0,1061.1 L667.0,1060.1 L668.0,1060.5 L669.0,1060.2 L670.0,1060.2 L671.0,1059.9 L672.0,1059.5 L673.0,1059.7 L674.0,1058.9 L675.0,1059.9 L676.0,1058.8 L677.0,1059.3 L678.0,1060.0 L679.1,1058.9 L680.1,1058.9 L681.1,1059.3 L682.1,1058.7 L683.1,1058.3 L684.1,1058.7 L685.1,1058.7 L686.1,1058.7 L687.1,1057.9 L688.1,1059.0 L689.1,1058.8 L690.1,1058.0 L691.1,1058.0 L692.1,1057.6 L693.1,1058.4 L694.1,1057.3 L695.1,1057.8 L696.1,1057.2 L697.1,1057.0 L698.1,1057.6 L699.1,1057.8 L700.1,1057.1 L701.1,1056.7 L702.2,1057.2 L703.2,1056.8 L704.2,1056.8 L705.2,1057.3 L706.2,1057.0 L707.2,1056.1 L708.2,1057.3 L709.2,1056.2 L710.2,1056.4 L711.2,1055.7 L712.2,1055.9 L713.2,1055.0 L714.2,1056.5 L715.2,1056.2 L716.2,1054.9 L717.2,1054.7 L718.2,1054.6 L719.2,1055.7 L720.2,1054.9 L721.2,1055.0 L722.2,1054.7 L723.2,1054.7 L724.2,1054.2 L725.2,1054.6 L726.3,1053.8 L727.3,1054.3 L728.3,1054.4 L729.3,1054.4 L730.3,1054.0 L731.3,1053.6 L732.3,1053.9 L733.3,1053.5 L734.3,1054.4 L735.3,1053.9 L736.3,1053.4 L737.3,1053.1 L738.3,1052.9 L739.3,1052.7 L740.3,1052.9 L741.3,1053.1 L742.3,1053.1 L743.3,1053.0 L744.3,1053.6 L745.3,1052.2 L746.3,1052.4 L747.3,1053.6 L748.3,1051.4 L749.3,1051.9 L750.4,1052.1 L751.4,1052.0 L752.4,1052.0 L753.4,1051.6 L754.4,1051.8 L755.4,1051.5 L756.4,1051.7 L757.4,1050.5 L758.4,1050.8 L759.4,1051.1 L760.4,1050.5 L761.4,1050.4 L762.4,1051.1 L763.4,1050.4 L764.4,1050.9 L765.4,1050.8 L766.4,1050.5 L767.4,1050.5 L768.4,1050.1 L769.4,1049.4 L770.4,1049.9 L771.4,1050.0 L772.4,1049.5 L773.5,1049.6 L774.5,1049.8 L775.5,1049.0 L776.5,1049.5 L777.5,1050.0 L778.5,1048.8 L779.5,1049.0 L780.5,1048.7 L781.5,1049.4 L782.5,1048.7 L783.5,1048.8 L784.5,1048.0 L785.5,1048.2 L786.5,1048.1 L787.5,1047.2 L788.5,1048.5 L789.5,1048.1 L790.5,1046.8 L791.5,1047.8 L792.5,1047.3 L793.5,1047.5 L794.5,1047.3 L795.5,1046.4 L796.5,1046.8 L797.6,1047.5 L798.6,1046.4 L799.6,1046.1 L800.6,1045.8 L801.6,1045.8 L802.6,1046.4 L803.6,1046.9 L804.6,1046.2 L805.6,1046.0 L806.6,1046.8 L807.6,1045.5 L808.6,1045.3 L809.6,1045.8 L810.6,1045.7 L811.6,1044.9 L812.6,1044.7 L813.6,1045.3 L814.6,1045.2 L815.6,1044.4 L816.6,1044.8 L817.6,1044.5 L818.6,1044.9 L819.6,1044.6 L820.6,1044.5 L821.7,1044.3 L822.7,1044.9 L823.7,1044.9 L824.7,1044.1 L825.7,1044.6 L826.7,1043.8 L827.7,1044.1 L828.7,1044.3 L829.7,1044.6 L830.7,1043.7 L831.7,1043.8 L832.7,1043.9 L833.7,1043.1 L834.7,1043.7 L835.7,1043.4 L836.7,1043.8 L837.7,1043.1 L838.7,1042.7 L839.7,1043.6 L840.8,1043.6 L841.8,1043.2 L842.8,1043.9 L843.8,1043.3 L844.8,1043.1 L845.8,1043.6 L846.8,1042.7 L847.8,1043.0 L848.8,1043.3 L849.8,1043.7 L850.8,1043.2 L851.8,1043.4 L852.8,1043.0 L853.8,1043.4 L854.8,1044.0 L855.8,1042.9 L856.9,1044.2 L857.9,1042.9 L858.9,1043.1 L859.9,1043.2 L860.9,1043.6 L861.9,1042.5 L862.9,1042.1 L863.9,1043.3 L864.9,1043.4 L865.9,1043.2 L866.9,1044.1 L867.9,1043.0 L868.9,1043.0 L869.9,1043.3 L870.9,1043.0 L871.9,1043.5 L873.0,1042.2 L874.0,1042.5 L875.0,1041.1 L876.0,1043.0 L877.0,1042.4 L878.0,1042.9 L879.0,1043.4 L880.0,1042.4 L881.0,1042.2 L882.1,1042.0 L883.1,1041.6 L884.2,1041.5 L885.2,1041.9 L886.2,1041.4 L887.3,1041.2 L888.3,1040.9 L889.4,1041.2 L890.4,1040.8 L891.5,1040.4 L892.5,1040.7 L893.5,1040.3 L894.6,1039.8 L895.6,1040.9 L896.7,1040.4 L897.7,1039.7 L898.8,1040.6 L899.8,1040.2 L900.8,1039.4 L901.9,1040.8 L902.9,1040.2 L904.0,1040.4 L905.0,1040.1 L906.1,1040.2 L907.2,1040.1 L908.3,1042.1 L909.4,1042.6 L910.5,1043.3 L911.6,1044.3 L912.6,1044.7 L913.7,1045.5 L914.7,1045.6 L915.8,1046.2 L916.8,1045.8 L917.8,1046.9 L918.9,1047.6 L919.9,1048.0 L921.1,1046.9 L922.3,1046.0 L923.4,1045.3 L924.6,1042.9 L925.8,1041.9 L926.9,1040.9 L927.9,1038.2 L929.0,1036.7 L930.0,1033.8 L931.1,1032.5 L932.1,1031.2 L933.2,1030.9 L934.2,1031.6 L935.3,1032.9 L936.4,1032.5 L937.4,1033.8 L938.6,1036.9 L939.7,1040.5 L940.9,1046.4 L942.0,1051.6 L943.2,1055.7 L944.4,1059.6 L945.6,1061.8 L946.7,1065.9 L947.9,1068.1 L949.1,1072.1 L950.2,1077.0 L951.3,1082.3 L952.4,1085.3 L953.4,1084.9 L954.4,1084.4 L955.4,1084.4 L956.4,1084.1 L957.4,1082.4 L958.3,1054.9 L959.3,1000.6 L960.3,909.8 L961.3,819.4 L961.9,786.3 L962.5,768.5 L963.1,783.5 L963.8,820.0 L964.6,908.8 L965.5,1000.4 L966.5,1059.9 L967.5,1089.9 L968.5,1094.3 L969.5,1098.1 L970.5,1100.4 L971.5,1100.2 L972.5,1100.5 L973.6,1101.2 L974.6,1100.6 L975.7,1101.5 L976.7,1101.6 L977.8,1102.2 L978.8,1101.7 L979.8,1101.8 L980.9,1102.0 L981.9,1102.2 L983.0,1102.0 L984.0,1102.3 L985.0,1102.6 L986.0,1102.6 L987.0,1102.5 L988.0,1101.1 L989.0,1100.9 L990.0,1099.6 L991.0,1101.3 L992.0,1099.8 L993.0,1100.0 L994.0,1100.1 L995.1,1099.5 L996.2,1100.7 L997.3,1101.1 L998.4,1100.9 L999.5,1102.3 L1000.6,1102.8 L1001.6,1101.5 L1002.6,1102.6 L1003.7,1102.3 L1004.7,1102.4 L1005.7,1102.3 L1006.7,1102.7 L1007.7,1101.9 L1008.8,1102.3 L1009.8,1101.6 L1010.8,1102.0 L1011.8,1101.2 L1012.9,1101.5 L1013.9,1102.2 L1014.9,1101.5 L1015.9,1101.1 L1016.9,1100.5 L1018.0,1100.6 L1019.0,1100.9 L1020.0,1101.1 L1021.1,1100.8 L1022.2,1100.7 L1023.2,1100.2 L1024.3,1100.7 L1025.4,1099.7 L1026.5,1099.5 L1027.5,1100.0 L1028.6,1099.4 L1029.7,1099.2 L1030.7,1098.9 L1031.7,1099.0 L1032.7,1099.3 L1033.7,1099.1 L1034.7,1098.4 L1035.7,1099.0 L1036.8,1098.9 L1037.8,1098.3 L1038.8,1099.0 L1039.8,1098.5 L1040.8,1098.5 L1041.8,1098.9 L1042.8,1099.1 L1043.8,1098.2 L1044.8,1098.6 L1045.8,1098.0 L1046.8,1099.4 L1047.8,1098.0 L1048.8,1098.7 L1049.9,1097.8 L1050.9,1098.4 L1051.9,1099.0 L1052.9,1096.7 L1053.9,1097.6 L1054.9,1097.9 L1055.9,1097.5 L1056.9,1096.9 L1057.9,1097.8 L1058.9,1096.3 L1060.0,1094.9 L1061.0,1095.5 L1062.0,1094.0 L1063.0,1095.1 L1064.0,1094.5 L1065.1,1095.2 L1066.1,1096.3 L1067.2,1096.4 L1068.2,1096.4 L1069.2,1096.8 L1070.3,1098.5 L1071.3,1098.4 L1072.3,1097.7 L1073.4,1098.5 L1074.4,1098.3 L1075.4,1098.3 L1076.5,1096.9 L1077.5,1097.8 L1078.5,1098.2 L1079.6,1098.1 L1080.6,1098.1 L1081.6,1096.5 L1082.7,1097.6 L1083.7,1097.7 L1084.8,1098.5 L1085.8,1096.9 L1086.8,1097.1 L1087.9,1097.2 L1088.9,1097.5 L1089.9,1096.8 L1091.0,1097.5 L1092.0,1096.6 L1093.0,1097.0 L1094.1,1096.7 L1095.1,1097.0 L1096.2,1096.6 L1097.2,1096.2 L1098.3,1097.5 L1099.3,1097.2 L1100.4,1096.9 L1101.4,1097.3 L1102.5,1097.8 L1103.5,1097.0 L1104.6,1097.5 L1105.7,1097.9 L1106.7,1098.0 L1107.8,1097.7 L1108.8,1097.0 L1109.9,1098.5 L1110.9,1098.1 L1112.0,1098.0 L1113.0,1097.6 L1114.0,1097.1 L1115.0,1095.9 L1116.0,1094.5 L1117.0,1093.0 L1118.0,1091.7 L1119.0,1091.5 L1120.0,1091.2 L1121.0,1091.8 L1122.2,1090.4 L1123.5,1090.3 L1124.8,1085.8 L1126.0,1082.2 L1127.2,1080.6 L1128.3,1079.1 L1129.4,1079.5 L1130.5,1082.0 L1131.2,1086.4 L1131.8,1091.2 L1132.4,1096.1 L1133.0,1099.1 L1134.0,1099.6 L1135.0,1100.4 L1136.0,1100.8 L1137.0,1100.8 L1138.1,1100.9 L1139.1,1100.7 L1140.1,1100.3 L1141.1,1100.4 L1142.2,1100.3 L1143.2,1100.2 L1144.2,1100.3 L1145.2,1099.5 L1146.3,1100.1 L1147.3,1100.2 L1148.3,1099.8 L1149.4,1100.1 L1150.4,1100.3 L1151.4,1100.0 L1152.4,1100.9 L1153.5,1098.8 L1154.5,1099.8 L1155.5,1099.0 L1156.6,1100.2 L1157.6,1100.9 L1158.6,1098.4 L1159.7,1099.5 L1160.7,1099.5 L1161.7,1099.0 L1162.8,1099.3 L1163.8,1097.8 L1164.8,1099.1 L1165.9,1098.7 L1166.9,1098.3 L1168.0,1097.9 L1169.0,1098.3 L1170.0,1097.6 L1171.1,1097.7 L1172.1,1097.2 L1173.1,1096.2 L1174.2,1097.0 L1175.2,1096.9 L1176.2,1097.0 L1177.3,1096.1 L1178.3,1096.3 L1179.3,1096.4 L1180.4,1096.0 L1181.4,1096.3 L1182.4,1096.5 L1183.5,1095.0 L1184.5,1094.4 L1185.5,1095.4 L1186.6,1095.5 L1187.6,1095.1 L1188.6,1094.8 L1189.7,1094.0 L1190.7,1093.8 L1191.7,1094.3 L1192.8,1093.3 L1193.8,1092.7 L1194.8,1092.9 L1195.9,1094.3 L1196.9,1093.9 L1197.9,1092.5 L1199.0,1092.3 L1200.0,1092.6 L1201.1,1092.0 L1202.2,1092.8 L1203.3,1092.0 L1204.5,1091.4 L1205.6,1092.3 L1206.7,1091.3 L1207.8,1091.5 L1208.8,1091.2 L1209.9,1090.9 L1210.9,1091.0 L1212.0,1090.3 L1213.0,1089.6 L1214.1,1089.2 L1215.1,1089.4 L1216.1,1089.3 L1217.2,1089.4 L1218.2,1089.2 L1219.3,1089.2 L1220.3,1088.7 L1221.4,1088.1 L1222.4,1087.9 L1223.4,1087.0 L1224.4,1087.6 L1225.5,1087.6 L1226.5,1087.3 L1227.5,1086.6 L1228.5,1086.3 L1229.5,1086.4 L1230.6,1085.7 L1231.6,1085.7 L1232.6,1085.3 L1233.6,1084.9 L1234.6,1085.1 L1235.6,1084.1 L1236.7,1084.1 L1237.7,1083.8 L1238.7,1083.7 L1239.8,1084.9 L1240.9,1085.3 L1242.0,1084.9 L1243.0,1085.7 L1244.1,1086.5 L1245.2,1087.0 L1246.3,1087.9 L1247.3,1087.7 L1248.4,1089.0 L1249.4,1090.5 L1250.5,1091.6 L1251.5,1091.6 L1252.5,1091.7 L1253.5,1092.4 L1254.5,1092.6 L1255.5,1092.6 L1256.7,1093.2 L1257.8,1091.3 L1259.0,1090.5 L1260.2,1090.5 L1261.3,1089.0 L1262.5,1087.2 L1263.6,1085.0 L1264.7,1082.9 L1265.8,1078.7 L1266.5,1064.3 L1267.2,1040.6 L1267.8,1016.9 L1268.3,990.2 L1268.7,970.3 L1269.1,950.2 L1269.3,937.2 L1269.5,927.9 L1269.8,936.3 L1270.0,950.1 L1270.4,969.1 L1270.8,989.9 L1271.2,1016.3 L1271.7,1040.9 L1272.2,1063.5 L1272.8,1080.1 L1273.4,1090.3 L1274.0,1097.9 L1275.2,1100.3 L1276.5,1102.0 L1277.8,1103.0 L1279.0,1105.0 L1280.0,1106.5 L1281.0,1109.3 L1282.0,1111.2 L1283.2,1112.3 L1284.3,1113.4 L1285.5,1113.3 L1286.7,1113.2 L1287.8,1109.9 L1289.0,1107.2 L1290.1,1106.3 L1291.2,1104.3 L1292.2,1102.6 L1293.3,1101.8 L1294.4,1101.6 L1295.6,1101.9 L1296.8,1104.5 L1298.0,1107.6 L1299.2,1110.4 L1300.5,1112.9 L1301.6,1114.6 L1302.8,1115.8 L1303.9,1116.9 L1305.0,1117.8 L1306.0,1117.8 L1307.0,1117.1 L1308.0,1118.4 L1309.0,1118.3 L1310.0,1119.1 L1311.0,1118.7 L1312.0,1119.1 L1313.1,1120.0 L1314.1,1118.5 L1315.2,1118.4 L1316.2,1118.2 L1317.3,1117.7 L1318.3,1117.9 L1319.4,1118.9 L1320.4,1118.4 L1321.5,1117.7 L1322.5,1117.9 L1323.6,1118.8 L1324.6,1118.1 L1325.6,1118.3 L1326.6,1118.6 L1327.6,1119.0 L1328.6,1119.2 L1329.6,1118.8 L1330.6,1118.4 L1331.6,1118.4 L1332.6,1119.1 L1333.6,1118.9 L1334.6,1118.1 L1335.6,1118.4 L1336.6,1118.3 L1337.6,1118.2 L1338.6,1117.9 L1339.7,1117.5 L1340.7,1117.8 L1341.7,1117.3 L1342.7,1118.6 L1343.7,1118.2 L1344.7,1117.4 L1345.7,1118.6 L1346.7,1118.3 L1347.7,1117.0 L1348.7,1118.7 L1349.7,1118.2 L1350.7,1118.8 L1351.7,1117.3 L1352.7,1118.0 L1353.7,1117.9 L1354.7,1117.8 L1355.7,1117.8 L1356.7,1118.1 L1357.7,1117.0 L1358.8,1117.1 L1359.8,1117.0 L1360.8,1117.3 L1361.8,1117.3 L1362.8,1117.7 L1363.8,1117.6 L1364.9,1117.5 L1365.9,1117.1 L1366.9,1117.2 L1367.9,1117.8 L1368.9,1117.7 L1369.9,1117.4 L1371.0,1117.2 L1372.0,1118.0 L1373.0,1117.0 L1374.0,1117.5 L1375.0,1117.7 L1376.0,1117.1 L1377.1,1117.5 L1378.1,1116.6 L1379.1,1117.6 L1380.1,1117.1 L1381.1,1116.3 L1382.1,1117.3 L1383.2,1116.5 L1384.2,1117.5 L1385.2,1116.5 L1386.2,1116.7 L1387.2,1116.9 L1388.2,1116.5 L1389.3,1116.7 L1390.3,1116.3 L1391.3,1116.8 L1392.3,1116.4 L1393.3,1116.3 L1394.3,1114.8 L1395.3,1116.2 L1396.3,1115.4 L1397.3,1114.3 L1398.4,1114.8 L1399.4,1114.7 L1400.4,1114.7 L1401.4,1113.5 L1402.4,1114.5 L1403.4,1113.6 L1404.4,1114.7 L1405.6,1113.6 L1406.8,1114.2 L1407.9,1113.9 L1409.1,1113.9 L1410.3,1115.3 L1411.4,1115.7 L1412.4,1116.9 L1413.5,1117.7 L1414.6,1118.4 L1415.7,1119.2 L1416.7,1121.0 L1417.8,1122.2 L1418.9,1123.1 L1419.9,1124.3 L1421.0,1124.4 L1422.0,1124.1 L1423.0,1124.2 L1424.0,1123.7 L1425.0,1123.4 L1426.0,1123.1 L1427.0,1122.3 L1427.8,1117.0 L1428.5,1109.3 L1429.2,1104.5 L1430.0,1097.1 L1430.8,1087.9 L1431.5,1077.3 L1431.9,1073.6 L1432.3,1071.5 L1432.8,1072.9 L1433.2,1077.8 L1433.7,1087.7 L1434.2,1097.5 L1435.0,1105.1 L1435.8,1109.6 L1436.7,1116.2 L1437.6,1121.5 L1438.8,1123.7 L1440.0,1124.8 L1441.2,1125.0 L1442.4,1126.5 L1443.5,1126.8 L1444.5,1126.9 L1445.6,1126.7 L1446.7,1127.3 L1447.8,1127.7 L1448.8,1127.3 L1449.9,1126.8 L1451.0,1127.9 L1452.0,1128.0 L1453.1,1127.8 L1454.1,1128.1 L1455.1,1127.3 L1456.2,1127.3 L1457.2,1127.0 L1458.2,1127.0 L1459.2,1127.1 L1460.2,1125.9 L1461.3,1126.6 L1462.3,1126.0 L1463.3,1125.3 L1464.3,1125.0 L1465.4,1125.3 L1466.4,1124.3 L1467.4,1124.2 L1468.6,1123.9 L1469.8,1124.9 L1470.9,1125.7 L1472.1,1125.8 L1473.3,1126.3 L1474.4,1126.6 L1475.5,1127.5 L1476.5,1127.7 L1477.6,1129.8 L1478.7,1130.2 L1479.8,1130.9 L1480.9,1132.0 L1482.0,1132.8 L1483.0,1134.2 L1484.1,1134.7 L1485.2,1133.8 L1486.4,1134.8 L1487.6,1134.7 L1488.7,1133.8 L1489.9,1133.0 L1491.1,1132.9 L1491.9,1126.4 L1492.8,1115.2 L1493.4,1106.3 L1494.0,1096.1 L1494.6,1086.8 L1495.2,1077.3 L1495.6,1074.8 L1495.9,1072.0 L1496.3,1074.0 L1496.7,1077.6 L1497.2,1086.5 L1497.8,1097.6 L1498.5,1106.7 L1499.2,1115.3 L1499.9,1126.1 L1500.6,1132.5 L1501.8,1135.1 L1503.0,1135.8 L1504.0,1135.6 L1505.1,1136.2 L1506.1,1135.6 L1507.1,1135.5 L1508.2,1135.3 L1509.2,1134.8 L1510.2,1135.9 L1511.2,1136.1 L1512.3,1135.5 L1513.3,1134.8 L1514.3,1133.9 L1515.4,1135.1 L1516.4,1135.5 L1517.4,1134.9 L1518.5,1135.1 L1519.5,1135.3 L1520.5,1135.0 L1521.5,1134.2 L1522.6,1134.8 L1523.6,1134.6 L1524.6,1133.5 L1525.7,1134.0 L1526.7,1133.6 L1527.8,1134.2 L1528.8,1134.5 L1529.9,1133.7 L1530.9,1133.3 L1532.0,1134.8 L1533.0,1134.4 L1534.1,1134.9 L1535.1,1133.6 L1536.2,1134.7 L1537.2,1135.1 L1538.3,1135.1 L1539.3,1134.1 L1540.4,1134.3 L1541.4,1134.1 L1542.5,1134.6 L1543.5,1134.7 L1544.6,1134.2 L1545.7,1133.6 L1546.8,1134.7 L1547.8,1134.3 L1548.9,1134.9 L1550.0,1135.0 L1551.0,1135.8 L1552.1,1135.8 L1553.2,1135.3 L1554.3,1135.9 L1555.3,1136.7 L1556.4,1135.7 L1557.5,1136.2 L1558.5,1135.4 L1559.5,1132.4 L1560.5,1128.2 L1561.5,1123.4 L1562.5,1118.5 L1563.5,1115.1 L1564.5,1113.4 L1565.5,1113.1 L1566.5,1111.1 L1567.7,1112.9 L1568.8,1115.3 L1569.3,1117.9 L1569.8,1123.6 L1570.4,1130.9 L1571.0,1135.8 L1572.0,1139.0 L1573.0,1140.7 L1574.0,1140.5 L1575.0,1141.4 L1576.0,1141.2 L1577.0,1141.5 L1578.0,1142.2 L1579.0,1141.8 L1580.0,1142.3 L1581.0,1142.9 L1582.0,1142.2 L1583.1,1141.8 L1584.2,1141.3 L1585.3,1139.5 L1586.4,1138.6 L1587.4,1135.9 L1588.5,1135.2 L1589.6,1133.4 L1590.7,1132.4 L1591.8,1133.2 L1592.9,1133.1 L1593.9,1137.0 L1595.0,1139.6 L1596.0,1142.6 L1597.1,1142.7 L1598.2,1143.6 L1599.3,1143.6 L1600.4,1142.8 L1601.5,1142.7 L1602.6,1143.7 L1603.7,1142.5 L1604.8,1142.1 L1605.9,1141.9 L1607.0,1142.4 L1608.1,1142.4 L1609.2,1142.4 L1610.3,1143.1 L1611.5,1142.3 L1612.6,1142.8 L1613.7,1143.4 L1614.8,1142.5 L1615.9,1143.6 L1617.0,1144.2 L1618.1,1143.2 L1619.2,1143.8 L1620.3,1144.5 L1621.5,1144.8 L1622.6,1146.5 L1623.7,1146.1 L1624.8,1147.7" fill="none" stroke="#ff1f47" stroke-width="7.2" stroke-linejoin="round" stroke-linecap="round"/>

<rect x="117" y="49" width="10" height="1238" fill="#080a09"/>
<rect x="1643" y="49" width="10" height="1238" fill="#080a09"/>
<rect x="117" y="49" width="1536" height="7" fill="#080a09"/>
<rect x="117" y="1277" width="1536" height="10" fill="#080a09"/>

<rect x="1618.0" y="1258" width="10" height="20" fill="#080a09"/><rect x="1494.0" y="1270" width="10" height="8" fill="#080a09"/><rect x="1370.0" y="1258" width="10" height="20" fill="#080a09"/><rect x="1246.0" y="1270" width="10" height="8" fill="#080a09"/><rect x="1122.0" y="1258" width="10" height="20" fill="#080a09"/><rect x="998.0" y="1270" width="10" height="8" fill="#080a09"/><rect x="874.0" y="1258" width="10" height="20" fill="#080a09"/><rect x="750.0" y="1270" width="10" height="8" fill="#080a09"/><rect x="626.0" y="1258" width="10" height="20" fill="#080a09"/><rect x="502.0" y="1270" width="10" height="8" fill="#080a09"/><rect x="378.0" y="1258" width="10" height="20" fill="#080a09"/><rect x="254.0" y="1270" width="10" height="8" fill="#080a09"/><rect x="130.0" y="1258" width="10" height="20" fill="#080a09"/><rect x="126" y="157" width="21" height="10" fill="#080a09"/><rect x="126" y="269" width="8" height="10" fill="#080a09"/><rect x="126" y="381" width="21" height="10" fill="#080a09"/><rect x="126" y="493" width="8" height="10" fill="#080a09"/><rect x="126" y="605" width="21" height="10" fill="#080a09"/><rect x="126" y="717" width="8" height="10" fill="#080a09"/><rect x="126" y="829" width="21" height="10" fill="#080a09"/><rect x="126" y="941" width="8" height="10" fill="#080a09"/><rect x="126" y="1053" width="21" height="10" fill="#080a09"/><rect x="126" y="1165" width="8" height="10" fill="#080a09"/>
<text transform="translate(1624.40,1348.90) scale(1.0182,1)" text-anchor="middle" class="b" font-size="51.70">0</text><text transform="translate(1376.40,1348.90) scale(1.0182,1)" text-anchor="middle" class="b" font-size="51.70">200</text><text transform="translate(1128.40,1348.90) scale(1.0182,1)" text-anchor="middle" class="b" font-size="51.70">400</text><text transform="translate(880.40,1348.90) scale(1.0182,1)" text-anchor="middle" class="b" font-size="51.70">600</text><text transform="translate(632.40,1348.90) scale(1.0182,1)" text-anchor="middle" class="b" font-size="51.70">800</text><text transform="translate(384.40,1348.90) scale(1.0182,1)" text-anchor="middle" class="b" font-size="51.70">1000</text><text transform="translate(136.40,1348.90) scale(1.0182,1)" text-anchor="middle" class="b" font-size="51.70">1200</text>
<text transform="translate(240.99,162.80) scale(0.9684,1)" class="r" font-size="66.80">(A)</text>
<text transform="translate(913.29,168.10) scale(0.9907,1)" class="b" font-size="52.70">O 1s</text>
<text transform="translate(1066.86,566.00) scale(0.9997,1)" class="b" font-size="51.90">N 1s</text>
<text transform="translate(1224.32,396.20) scale(0.9796,1)" class="b" font-size="52.60">C 1s</text>
<text transform="translate(1442.05,416.70) scale(1.0266,1)" class="b" font-size="51.00">Si 2p</text>
<text transform="translate(1283.09,942.00) scale(0.9755,1)" class="b" font-size="53.30">Re 4d</text>
<text transform="translate(1506.15,953.90) scale(1.0237,1)" class="b" font-size="53.10">Re 4f</text>
<text transform="translate(219.61,546.00) scale(0.9800,1)" class="b" font-size="65.80">N3/SiO</text>
<text transform="translate(418.06,563.80) scale(1.0125,1)" class="b" font-size="44.98">2</text>
<text transform="translate(156.78,995.10) scale(0.9723,1)" class="b" font-size="65.80">Re-loaded N3/SiO</text>
<text transform="translate(647.05,1011.90) scale(1.0178,1)" class="b" font-size="44.98">2</text>
<text transform="translate(596.89,1434.60) scale(0.9778,1)" class="b" font-size="70.70">Binding energy(eV)</text>
<text transform="translate(64.90,889.17) rotate(-90) scale(0.9900,1)" class="b" font-size="70.70">Intensity(CPS)</text>
<ellipse cx="1293.1" cy="1107" rx="28" ry="39.8" fill="none" stroke="#080a09" stroke-width="7.5"/>
<ellipse cx="1561.3" cy="1122.4" rx="19.6" ry="33.5" fill="none" stroke="#080a09" stroke-width="7.5"/>
<line x1="1305.4" y1="1066.5" x2="1327" y2="995" stroke="#080a09" stroke-width="7.6"/>
<polygon points="1334.9,960.5 1340.6,960.5 1340.8,973.5 1340,989.8 1338.7,995.8 1336.5,997.3 1334.5,997.5 1330,996.7 1323.9,994.2 1321.1,993.6 1318.3,991.8 1318.3,987.3 1321.1,982.5 1326,974.3 1331.2,966.2 1334.1,961.8" fill="#080a09"/>
<line x1="1566.4" y1="1085.5" x2="1568.9" y2="1015" stroke="#080a09" stroke-width="7.5"/>
<polygon points="1567.3,980.1 1573.8,980.1 1575.5,985 1578,997 1579.9,1008 1579.9,1014.5 1578.5,1016.7 1561,1016.7 1559.2,1014.5 1559.2,1008 1561,997 1563.5,985" fill="#080a09"/>
</svg>
</body></html>
